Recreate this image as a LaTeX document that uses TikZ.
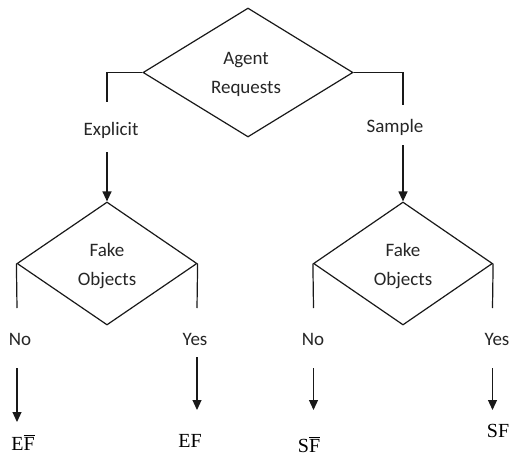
\documentclass[tikz,border=0pt]{standalone}
\usepackage{fontspec}
\setmainfont{Carlito}
\newfontfamily\resfont{Liberation Serif}
\usetikzlibrary{shapes.geometric,arrows.meta}
\begin{document}
\begin{tikzpicture}[x=1pt,y=-1pt,
  line/.style={draw=black!90,line width=1.2pt},
  arr/.style={line,-{Triangle[width=9pt,length=10pt]}},
  dia/.style={diamond,line,inner sep=0pt},
  dtxt/.style={inner sep=0pt,align=center,font=\fontsize{19}{29}\selectfont,text=black!85},
  lbl/.style={inner sep=0pt,anchor=base,font=\fontsize{19}{23}\selectfont,text=black!85},
  res/.style={inner sep=0pt,anchor=base,font=\fontsize{20}{24}\selectfont\resfont}]
\path[use as bounding box,fill=white] (0,0) rectangle (511,466);
% diamonds
\node[dia,minimum width=210pt,minimum height=129pt] (d0) at (248,72.5) {};
\node[dia,minimum width=180pt,minimum height=123pt] (d1) at (107,263.5) {};
\node[dia,minimum width=179pt,minimum height=123pt] (d2) at (403,263.5) {};
\node[dtxt,anchor=base] (t0) at (246,93) {Agent\\Requests};
\node[dtxt,anchor=base] (t1) at (107,285) {Fake\\Objects};
\node[dtxt,anchor=base] (t2) at (403,285) {Fake\\Objects};
% top branches
\coordinate (eTop) at (107,102);
\coordinate (eArr) at (107,152);
\coordinate (sTop) at (403,105);
\coordinate (sArr) at (403,145);
\draw[line] (d0.west) -| (eTop);
\draw[line] (d0.east) -| (sTop);
\node[lbl] (lexp) at (111,135) {Explicit};
\node[lbl] (lsam) at (395,132) {Sample};
\draw[arr] (eArr) -- (d1.north);
\draw[arr] (sArr) -- (d2.north);
% left lower diamond branches
\coordinate (aNoTop) at (17,308);
\coordinate (aYesTop) at (197,308);
\draw[line] (d1.west) -- (aNoTop);
\draw[line] (d1.east) -- (aYesTop);
\node[lbl] (aNo) at (20,345) {No};
\node[lbl] (aYes) at (195,345) {Yes};
\coordinate (aNoS) at (17,368);
\coordinate (aNoE) at (17,422);
\coordinate (aYesS) at (197,357);
\coordinate (aYesE) at (197,410);
\draw[arr] (aNoS) -- (aNoE);
\draw[arr] (aYesS) -- (aYesE);
% right lower diamond branches
\coordinate (bNoTop) at (313.5,308);
\coordinate (bYesTop) at (492.5,308);
\draw[line] (d2.west) -- (bNoTop);
\draw[line] (d2.east) -- (bYesTop);
\node[lbl] (bNo) at (313,345) {No};
\node[lbl] (bYes) at (497,345) {Yes};
\coordinate (bNoS) at (313.5,368);
\coordinate (bNoE) at (313.5,410);
\coordinate (bYesS) at (492.5,368);
\coordinate (bYesE) at (492.5,410);
\draw[arr] (bNoS) -- (bNoE);
\draw[arr] (bYesS) -- (bYesE);
% results
\node[res] (r1) at (23,450) {E$\overline{\mbox{F}}$};
\node[res] (r2) at (190,447) {EF};
\node[res] (r3) at (309,452) {S$\overline{\mbox{F}}$};
\node[res] (r4) at (498,437) {SF};
\end{tikzpicture}
\end{document}
